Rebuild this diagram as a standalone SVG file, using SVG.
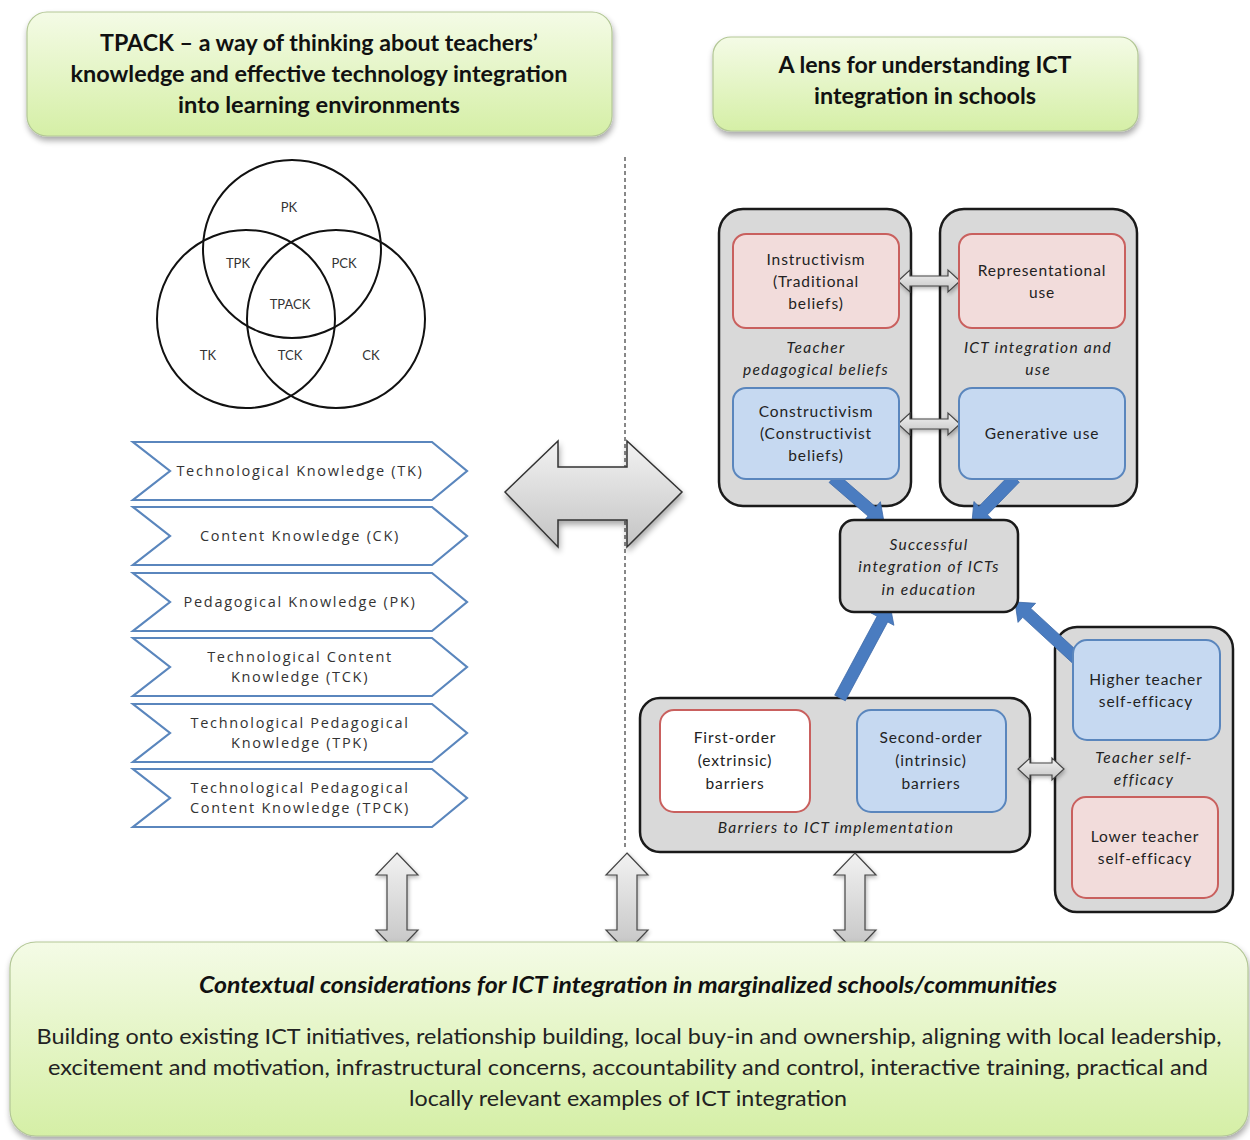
<svg xmlns="http://www.w3.org/2000/svg" width="1250" height="1140" viewBox="0 0 1250 1140">
  <defs>
    <linearGradient id="greenFill" x1="0" y1="0" x2="0" y2="1">
      <stop offset="0" stop-color="#f4fbe6"/>
      <stop offset="1" stop-color="#d5efa6"/>
    </linearGradient>
    <linearGradient id="greyFill" x1="0" y1="0" x2="0" y2="1">
      <stop offset="0" stop-color="#f2f2f2"/>
      <stop offset="1" stop-color="#c4c4c4"/>
    </linearGradient>
    <filter id="shadow" x="-10%" y="-20%" width="120%" height="150%">
      <feGaussianBlur in="SourceAlpha" stdDeviation="3"/>
      <feOffset dx="1" dy="4" result="b"/>
      <feComponentTransfer><feFuncA type="linear" slope="0.35"/></feComponentTransfer>
      <feMerge><feMergeNode/><feMergeNode in="SourceGraphic"/></feMerge>
    </filter>
    <filter id="softShadow" x="-20%" y="-20%" width="140%" height="140%">
      <feGaussianBlur in="SourceAlpha" stdDeviation="2"/>
      <feOffset dx="1" dy="2" result="b"/>
      <feComponentTransfer><feFuncA type="linear" slope="0.3"/></feComponentTransfer>
      <feMerge><feMergeNode/><feMergeNode in="SourceGraphic"/></feMerge>
    </filter>
  </defs>
  <style>
    .banner { fill: url(#greenFill); stroke: #b3c796; stroke-width: 1.2; filter: url(#shadow); }
    .banner-t { font-family: Lato, "Liberation Sans", sans-serif; font-weight: bold; font-size: 23px; fill: #111; text-anchor: middle; }
    .venn { fill: none; stroke: #111; stroke-width: 2; }
    .venn-t { font-family: Lato, "Liberation Sans", sans-serif; font-size: 13px; fill: #333; text-anchor: middle; }
    .chev { fill: #ffffff; stroke: #5a86bd; stroke-width: 2.2; }
    .chev-t { font-family: "Open Sans", "Liberation Sans", sans-serif; font-size: 14.5px; fill: #333; text-anchor: middle; letter-spacing: 1.7px; }
    .group { fill: #d9d9d9; stroke: #1a1a1a; stroke-width: 2.5; }
    .pink { fill: #f2dcdb; stroke: #c9605e; stroke-width: 2; }
    .blue { fill: #c6d9f1; stroke: #5a86bd; stroke-width: 2; }
    .plain { fill: #ffffff; stroke: #c9605e; stroke-width: 2; }
    .box-t { font-family: Lato, "Liberation Sans", sans-serif; font-size: 15.5px; fill: #222; text-anchor: middle; letter-spacing: 0.9px; }
    .cap-t { font-family: Lato, "Liberation Sans", sans-serif; font-size: 15.5px; font-style: italic; fill: #222; text-anchor: middle; letter-spacing: 1.3px; }
    .gray-arrow { fill: url(#greyFill); stroke: #444; stroke-width: 1.2; filter: url(#softShadow); }
    .gray-arrow-h { fill: url(#greyFill); stroke: #333; stroke-width: 1.5; filter: url(#shadow); }
    .blue-arrow { fill: #4a7cc0; stroke: #3d6aa8; stroke-width: 0.8; }
    .ctx-title { font-family: Lato, "Liberation Sans", sans-serif; font-size: 23px; font-weight: bold; font-style: italic; fill: #111; text-anchor: middle; }
    .ctx-body { font-family: Lato, "Liberation Sans", sans-serif; font-size: 22px; fill: #222; text-anchor: middle; }
  </style>

  <rect width="1250" height="1140" fill="#ffffff"/>

  <!-- dividing line between the two halves -->
  <line x1="625" y1="157" x2="625" y2="850" stroke="#111" stroke-width="1" stroke-dasharray="4 3"/>

  <!-- header banners -->
  <g id="tpack-banner">
    <rect class="banner" x="27" y="12" width="585" height="124" rx="20"/>
    <text class="banner-t" x="319" y="51" textLength="438" lengthAdjust="spacingAndGlyphs">TPACK – a way of thinking about teachers’</text>
    <text class="banner-t" x="319" y="82" textLength="497" lengthAdjust="spacingAndGlyphs">knowledge and effective technology integration</text>
    <text class="banner-t" x="319" y="113" textLength="282" lengthAdjust="spacingAndGlyphs">into learning environments</text>
  </g>
  <g id="lens-banner">
    <rect class="banner" x="713" y="37" width="425" height="94" rx="18"/>
    <text class="banner-t" x="925" y="73" textLength="293" lengthAdjust="spacingAndGlyphs">A lens for understanding ICT</text>
    <text class="banner-t" x="925" y="104" textLength="222" lengthAdjust="spacingAndGlyphs">integration in schools</text>
  </g>

  <!-- TPACK Venn diagram -->
  <g id="venn">
    <circle class="venn" cx="292" cy="249" r="89"/>
    <circle class="venn" cx="246" cy="319" r="89"/>
    <circle class="venn" cx="336" cy="319" r="89"/>
    <text class="venn-t" x="289" y="212">PK</text>
    <text class="venn-t" x="238" y="268">TPK</text>
    <text class="venn-t" x="344" y="268">PCK</text>
    <text class="venn-t" x="290" y="309">TPACK</text>
    <text class="venn-t" x="208" y="360">TK</text>
    <text class="venn-t" x="290" y="360">TCK</text>
    <text class="venn-t" x="371" y="360">CK</text>
  </g>

  <!-- knowledge domains -->
  <g id="chev-tk">
    <polygon class="chev" points="133,442 432,442 467,471 432,500 133,500 170,471"/>
    <text class="chev-t" x="300" y="476">Technological Knowledge (TK)</text>
  </g>
  <g id="chev-ck">
    <polygon class="chev" points="133,507 432,507 467,536 432,565 133,565 170,536"/>
    <text class="chev-t" x="300" y="541">Content Knowledge (CK)</text>
  </g>
  <g id="chev-pk">
    <polygon class="chev" points="133,573 432,573 467,602 432,631 133,631 170,602"/>
    <text class="chev-t" x="300" y="607">Pedagogical Knowledge (PK)</text>
  </g>
  <g id="chev-tck">
    <polygon class="chev" points="133,638 432,638 467,667 432,696 133,696 170,667"/>
    <text class="chev-t" x="300" y="662">Technological Content</text>
    <text class="chev-t" x="300" y="682">Knowledge (TCK)</text>
  </g>
  <g id="chev-tpk">
    <polygon class="chev" points="133,704 432,704 467,733 432,762 133,762 170,733"/>
    <text class="chev-t" x="300" y="728">Technological Pedagogical</text>
    <text class="chev-t" x="300" y="748">Knowledge (TPK)</text>
  </g>
  <g id="chev-tpck">
    <polygon class="chev" points="133,769 432,769 467,798 432,827 133,827 170,798"/>
    <text class="chev-t" x="300" y="793">Technological Pedagogical</text>
    <text class="chev-t" x="300" y="813">Content Knowledge (TPCK)</text>
  </g>

  <!-- right-hand groups -->
  <g id="beliefs-group">
    <rect class="group" x="719" y="209" width="192" height="297" rx="24"/>
    <text class="cap-t" x="816" y="353">Teacher</text>
    <text class="cap-t" x="816" y="375">pedagogical beliefs</text>
  </g>
  <g id="use-group">
    <rect class="group" x="940" y="209" width="197" height="297" rx="24"/>
    <text class="cap-t" x="1038" y="353">ICT integration and</text>
    <text class="cap-t" x="1038" y="375">use</text>
  </g>
  <g id="barriers-group">
    <rect class="group" x="640" y="698" width="390" height="154" rx="20"/>
    <text class="cap-t" x="836" y="833">Barriers to ICT implementation</text>
  </g>
  <g id="efficacy-group">
    <rect class="group" x="1055" y="627" width="178" height="285" rx="22"/>
    <text class="cap-t" x="1144" y="763">Teacher self-</text>
    <text class="cap-t" x="1144" y="785">efficacy</text>
  </g>

  <!-- connectors -->
  <g id="connectors">
    <polygon class="gray-arrow-h" points="505,492 558,441 558,467 627,467 627,441 682,492 627,547 627,520 558,520 558,547"/>
    <polygon class="gray-arrow" points="898,281 910,270 910,276 948,276 948,270 960,281 948,292 948,286 910,286 910,292"/>
    <polygon class="gray-arrow" points="898,424 910,413 910,419 948,419 948,413 960,424 948,435 948,429 910,429 910,435"/>
    <polygon class="gray-arrow" points="1018,769 1030,758 1030,763 1052,763 1052,758 1064,769 1052,780 1052,775 1030,775 1030,780"/>
    <polygon class="blue-arrow" points="829.1,482.5 868,516.1 863.4,521.4 884,522 880.4,501.7 875.8,507 836.9,473.5"/>
    <polygon class="blue-arrow" points="1010.7,473.8 978.9,506.4 973.9,501.5 972,522 992.5,519.7 987.5,514.8 1019.3,482.2"/>
    <polygon class="blue-arrow" points="845.3,700.8 887.7,621.9 893.9,625.3 890,605 871,612.9 877.1,616.3 834.7,695.2"/>
    <polygon class="blue-arrow" points="1082.1,655.6 1030.8,608.4 1035.6,603.3 1015,602 1018,622.4 1022.7,617.3 1073.9,664.4"/>
    <polygon class="gray-arrow" points="397,853 418,875 407,875 407,930 418,930 397,952 376,930 387,930 387,875 376,875"/>
    <polygon class="gray-arrow" points="627,853 648,875 637,875 637,930 648,930 627,952 606,930 617,930 617,875 606,875"/>
    <polygon class="gray-arrow" points="855,853 876,875 865,875 865,930 876,930 855,952 834,930 845,930 845,875 834,875"/>
  </g>

  <!-- boxes inside the groups -->
  <g id="instructivism">
    <rect class="pink" x="733" y="234" width="166" height="94" rx="13"/>
    <text class="box-t" x="816" y="265">Instructivism</text>
    <text class="box-t" x="816" y="287">(Traditional</text>
    <text class="box-t" x="816" y="309">beliefs)</text>
  </g>
  <g id="representational">
    <rect class="pink" x="959" y="234" width="166" height="94" rx="13"/>
    <text class="box-t" x="1042" y="276">Representational</text>
    <text class="box-t" x="1042" y="298">use</text>
  </g>
  <g id="constructivism">
    <rect class="blue" x="733" y="388" width="166" height="91" rx="13"/>
    <text class="box-t" x="816" y="417">Constructivism</text>
    <text class="box-t" x="816" y="439">(Constructivist</text>
    <text class="box-t" x="816" y="461">beliefs)</text>
  </g>
  <g id="generative">
    <rect class="blue" x="959" y="388" width="166" height="91" rx="13"/>
    <text class="box-t" x="1042" y="439">Generative use</text>
  </g>
  <g id="successful">
    <rect class="group" x="840" y="520" width="178" height="92" rx="14"/>
    <text class="cap-t" x="929" y="550">Successful</text>
    <text class="cap-t" x="929" y="572">integration of ICTs</text>
    <text class="cap-t" x="929" y="595">in education</text>
  </g>
  <g id="first-order">
    <rect class="plain" x="660" y="710" width="150" height="102" rx="14"/>
    <text class="box-t" x="735" y="743">First-order</text>
    <text class="box-t" x="735" y="766">(extrinsic)</text>
    <text class="box-t" x="735" y="789">barriers</text>
  </g>
  <g id="second-order">
    <rect class="blue" x="857" y="710" width="149" height="102" rx="14"/>
    <text class="box-t" x="931" y="743">Second-order</text>
    <text class="box-t" x="931" y="766">(intrinsic)</text>
    <text class="box-t" x="931" y="789">barriers</text>
  </g>
  <g id="higher-efficacy">
    <rect class="blue" x="1073" y="640" width="147" height="100" rx="14"/>
    <text class="box-t" x="1146" y="685">Higher teacher</text>
    <text class="box-t" x="1146" y="707">self-efficacy</text>
  </g>
  <g id="lower-efficacy">
    <rect class="pink" x="1072" y="797" width="146" height="101" rx="14"/>
    <text class="box-t" x="1145" y="842">Lower teacher</text>
    <text class="box-t" x="1145" y="864">self-efficacy</text>
  </g>

  <!-- contextual considerations -->
  <g id="context">
    <rect class="banner" x="10" y="942" width="1238" height="194" rx="26"/>
    <text class="ctx-title" x="628" y="993" textLength="858" lengthAdjust="spacingAndGlyphs">Contextual considerations for ICT integration in marginalized schools/communities</text>
    <text class="ctx-body" x="629" y="1044" textLength="1185" lengthAdjust="spacingAndGlyphs">Building onto existing ICT initiatives, relationship building, local buy-in and ownership, aligning with local leadership,</text>
    <text class="ctx-body" x="628" y="1075" textLength="1160" lengthAdjust="spacingAndGlyphs">excitement and motivation, infrastructural concerns, accountability and control, interactive training, practical and</text>
    <text class="ctx-body" x="628" y="1106" textLength="438" lengthAdjust="spacingAndGlyphs">locally relevant examples of ICT integration</text>
  </g>
</svg>
